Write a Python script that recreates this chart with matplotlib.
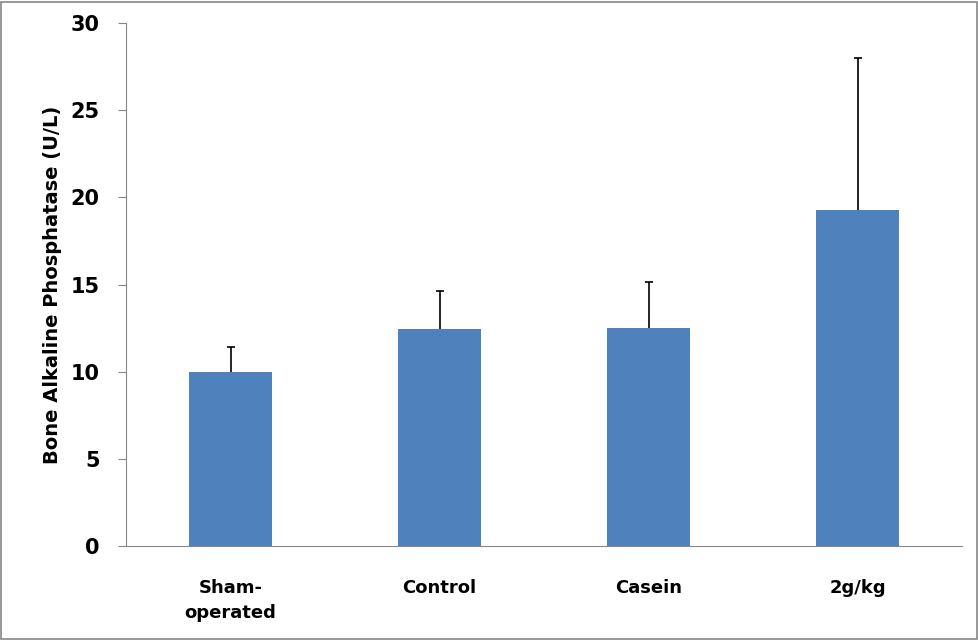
import numpy as np
import matplotlib.pyplot as plt
from matplotlib.patches import Rectangle

groups = ['Sham-\noperated', 'Control', 'Casein', '2g/kg']
means = [10.0, 12.45, 12.5, 19.27]
errs = [1.4, 2.2, 2.65, 8.75]

fig = plt.figure(figsize=(9.79, 6.4), dpi=100)
ax = fig.add_axes([0.1287, 0.1469, 0.854, 0.8171])

x = np.arange(len(groups))
tops = np.array(means) + np.array(errs)
ax.bar(x, means, width=0.4, color='#4F81BD', zorder=2)
# upper-only error bars
ax.errorbar(x, means, yerr=[np.zeros(len(errs)), errs], fmt='none',
            ecolor='black', elinewidth=1.2, capsize=0, zorder=3)
ax.plot(x, tops, linestyle='none', marker='_', markersize=6, markeredgewidth=1.2,
        color='black', zorder=3)

ax.set_xlim(-0.5, len(groups) - 0.5)
ax.set_ylim(0, 30)
ax.set_yticks(range(0, 31, 5))
ax.set_xticks(x)
ax.set_xticklabels(groups, fontweight='bold', fontsize=13, linespacing=1.5)
ax.tick_params(axis='x', length=0, pad=24)
ax.tick_params(axis='y', labelsize=15, length=6, color='#868686', direction='out', pad=13)
for lab in ax.get_yticklabels():
    lab.set_fontweight('bold')
ax.set_ylabel('Bone Alkaline Phosphatase (U/L)', fontsize=14, fontweight='bold', labelpad=6)

for s in ['top', 'right']:
    ax.spines[s].set_visible(False)
ax.spines['left'].set_color('#868686')
ax.spines['bottom'].set_color('#868686')

fig.patches.append(Rectangle((0.001, 0.002), 0.997, 0.995, transform=fig.transFigure,
                             fill=False, edgecolor='#868686', linewidth=1.2))

fig.savefig('out.png', dpi=100)
